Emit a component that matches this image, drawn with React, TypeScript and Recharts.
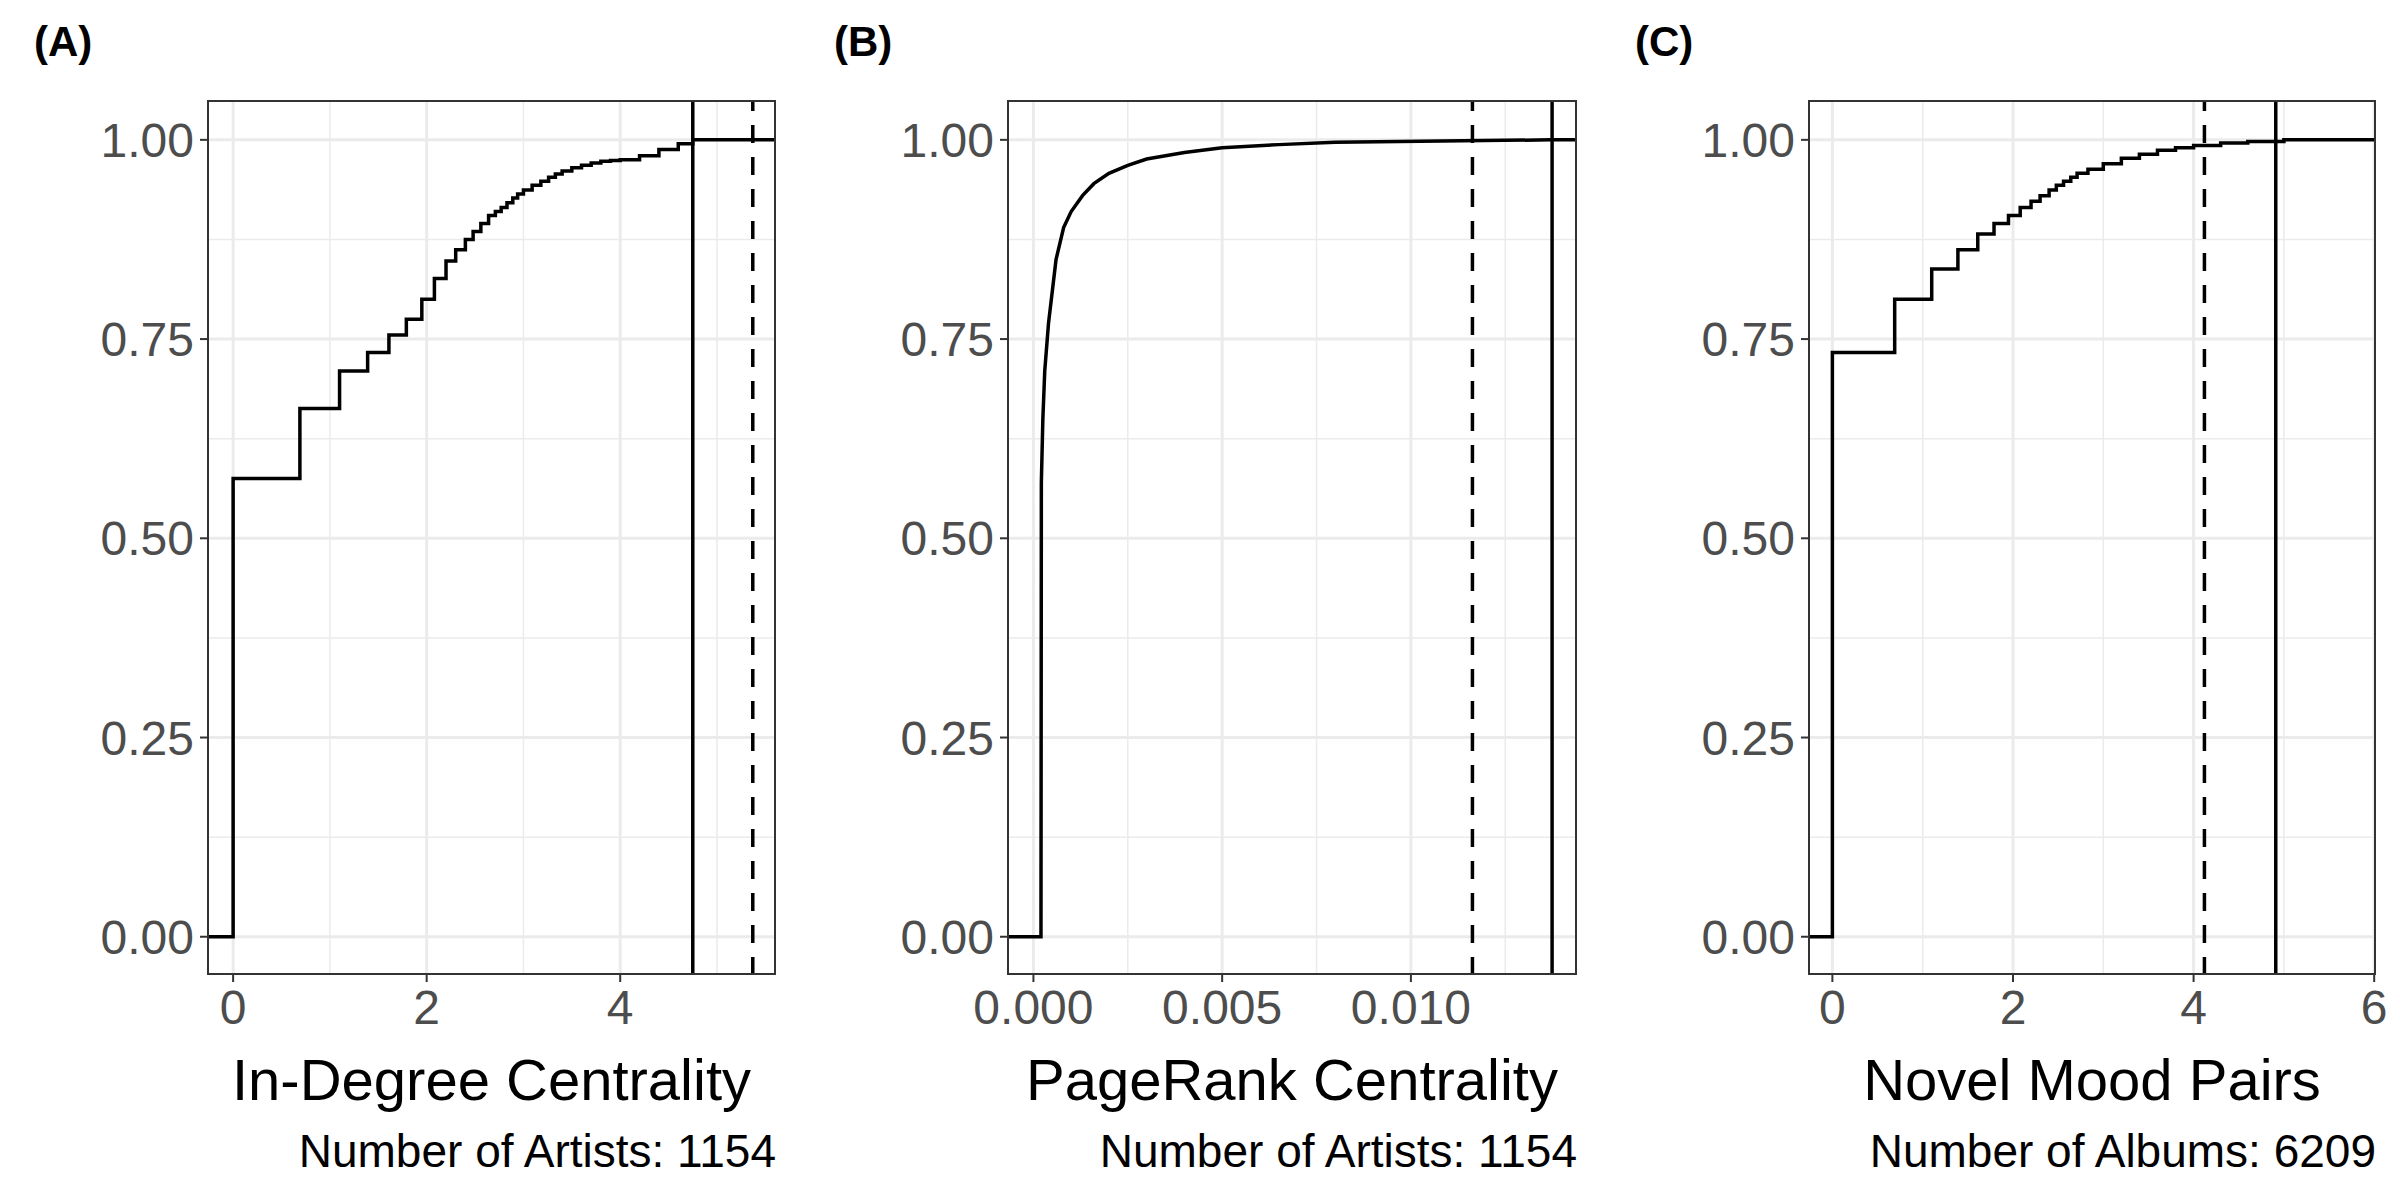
import React from 'react';
import { LineChart, Line, XAxis, YAxis, ReferenceLine } from 'recharts';

// Panel A: in-degree centrality (log scale), ECDF steps
const degreeX = [-0.27, 0, 0.69, 1.1, 1.39, 1.61, 1.79, 1.95, 2.08, 2.2, 2.3, 2.4, 2.48, 2.56, 2.64, 2.71, 2.77, 2.83, 2.89, 2.94, 3.0, 3.09, 3.18, 3.26, 3.33, 3.4, 3.5, 3.6, 3.7, 3.8, 3.9, 4.0, 4.2, 4.4, 4.6, 4.75, 5.61];
const degreeY = [0, 0.575, 0.663, 0.71, 0.733, 0.755, 0.775, 0.8, 0.826, 0.848, 0.862, 0.875, 0.885, 0.895, 0.905, 0.91, 0.915, 0.921, 0.927, 0.932, 0.937, 0.943, 0.948, 0.953, 0.957, 0.961, 0.965, 0.968, 0.971, 0.973, 0.974, 0.975, 0.98, 0.988, 0.995, 1, 1];

// Panel B: PageRank centrality
const pagerankX = [-0.0007, 0.0002, 0.00021, 0.00025, 0.0003, 0.0004, 0.0005, 0.0006, 0.0008, 0.001, 0.0013, 0.0016, 0.002, 0.0025, 0.003, 0.004, 0.005, 0.0065, 0.008, 0.0137, 0.0144];
const pagerankY = [0, 0, 0.57, 0.65, 0.71, 0.77, 0.81, 0.85, 0.89, 0.91, 0.93, 0.945, 0.958, 0.968, 0.976, 0.984, 0.99, 0.994, 0.997, 1, 1];

// Panel C: novel mood pairs (log scale)
const moodX = [-0.27, 0, 0.69, 1.1, 1.39, 1.61, 1.79, 1.95, 2.08, 2.2, 2.3, 2.4, 2.48, 2.56, 2.64, 2.71, 2.83, 3.0, 3.2, 3.4, 3.6, 3.8, 4.0, 4.3, 4.6, 5.0, 6.02];
const moodY = [0, 0.733, 0.8, 0.838, 0.862, 0.882, 0.895, 0.905, 0.915, 0.923, 0.93, 0.937, 0.943, 0.948, 0.953, 0.958, 0.963, 0.97, 0.977, 0.982, 0.987, 0.99, 0.993, 0.996, 0.998, 1, 1];

const yTicks = [0, 0.25, 0.5, 0.75, 1];
const yMinor = [0.125, 0.375, 0.625, 0.875];

const FONT = '"Liberation Sans", Arial, sans-serif';
const PLOT_TOP = 100;
const PLOT_BOTTOM = 975;

interface PanelProps {
  tag: string;
  tagLeft: number;
  left: number;
  right: number;
  xs: number[];
  ys: number[];
  domain: [number, number];
  ticks: number[];
  minor: number[];
  fmt: (v: number) => string;
  solid: number;
  dashed: number;
  step: boolean;
  title: string;
  note: string;
}

const Panel: React.FC<PanelProps> = (p) => {
  const data = p.xs.map((x, i) => ({ x, y: p.ys[i] }));
  const yAxisW = 160;
  const chartLeft = p.left - yAxisW - 10;
  const plotW = p.right - p.left;
  const width = plotW + yAxisW + 10 + 20;
  const xAxisH = 70;
  return (
    <>
      <div style={{ position: 'absolute', left: p.tagLeft, top: 18, fontFamily: FONT, fontWeight: 'bold', fontSize: 42 }}>{p.tag}</div>
      <div style={{ position: 'absolute', left: chartLeft, top: 0 }}>
        <LineChart width={width} height={1200} data={data}
          margin={{ top: PLOT_TOP, right: 20, left: 10, bottom: 1200 - PLOT_BOTTOM - xAxisH }}>
          {yTicks.map((t) => <ReferenceLine key={'ym' + t} y={t} stroke="#EBEBEB" strokeWidth={3} />)}
          {yMinor.map((t) => <ReferenceLine key={'yn' + t} y={t} stroke="#EBEBEB" strokeWidth={1.5} />)}
          {p.ticks.map((t) => <ReferenceLine key={'xm' + t} x={t} stroke="#EBEBEB" strokeWidth={3} />)}
          {p.minor.map((t) => <ReferenceLine key={'xn' + t} x={t} stroke="#EBEBEB" strokeWidth={1.5} />)}
          <XAxis type="number" dataKey="x" domain={p.domain} allowDataOverflow ticks={p.ticks} tickFormatter={p.fmt}
            height={xAxisH} axisLine={false} tickLine={{ stroke: '#333', strokeWidth: 2 }} tickSize={7} tickMargin={8}
            tick={{ fontSize: 48, fill: '#4D4D4D', fontFamily: FONT }} interval={0} />
          <YAxis type="number" domain={[-0.048, 1.05]} allowDataOverflow ticks={yTicks} tickFormatter={(v: number) => v.toFixed(2)}
            width={yAxisW} axisLine={false} tickLine={{ stroke: '#333', strokeWidth: 2 }} tickSize={7} tickMargin={6}
            tick={{ fontSize: 48, fill: '#4D4D4D', fontFamily: FONT }} interval={0} />
          <Line type={p.step ? 'stepAfter' : 'linear'} dataKey="y" stroke="#000" strokeWidth={3.5} dot={false} isAnimationActive={false} />
          <ReferenceLine x={p.solid} stroke="#000" strokeWidth={3.5} />
          <ReferenceLine x={p.dashed} stroke="#000" strokeWidth={3.5} strokeDasharray="18 14" />
        </LineChart>
      </div>
      <div style={{ position: 'absolute', left: p.left, top: PLOT_TOP, width: plotW, height: PLOT_BOTTOM - PLOT_TOP, border: '2px solid #333', boxSizing: 'border-box', pointerEvents: 'none' }} />
      <div style={{ position: 'absolute', left: p.left - 100, width: plotW + 200, top: 1046, textAlign: 'center', fontFamily: FONT, fontSize: 58, color: '#000' }}>{p.title}</div>
      <div style={{ position: 'absolute', left: p.left - 300, width: plotW + 300, top: 1124, textAlign: 'right', fontFamily: FONT, fontSize: 46, color: '#000' }}>{p.note}</div>
    </>
  );
};

export default function App() {
  return (
    <div style={{ position: 'absolute', left: 0, top: 0, width: 2400, height: 1200, background: '#fff', overflow: 'hidden' }}>
      <Panel tag="(A)" tagLeft={34} left={207} right={776} xs={degreeX} ys={degreeY} domain={[-0.27, 5.61]}
        ticks={[0, 2, 4]} minor={[1, 3, 5]} fmt={(v) => String(v)} solid={4.75} dashed={5.37} step
        title="In-Degree Centrality" note="Number of Artists: 1154" />
      <Panel tag="(B)" tagLeft={834} left={1007} right={1577} xs={pagerankX} ys={pagerankY} domain={[-0.0007, 0.0144]}
        ticks={[0, 0.005, 0.01]} minor={[0.0025, 0.0075, 0.0125]} fmt={(v) => v.toFixed(3)} solid={0.01374} dashed={0.01163} step={false}
        title="PageRank Centrality" note="Number of Artists: 1154" />
      <Panel tag="(C)" tagLeft={1635} left={1808} right={2376} xs={moodX} ys={moodY} domain={[-0.27, 6.02]}
        ticks={[0, 2, 4, 6]} minor={[1, 3, 5]} fmt={(v) => String(v)} solid={4.91} dashed={4.12} step
        title="Novel Mood Pairs" note="Number of Albums: 6209" />
    </div>
  );
}
